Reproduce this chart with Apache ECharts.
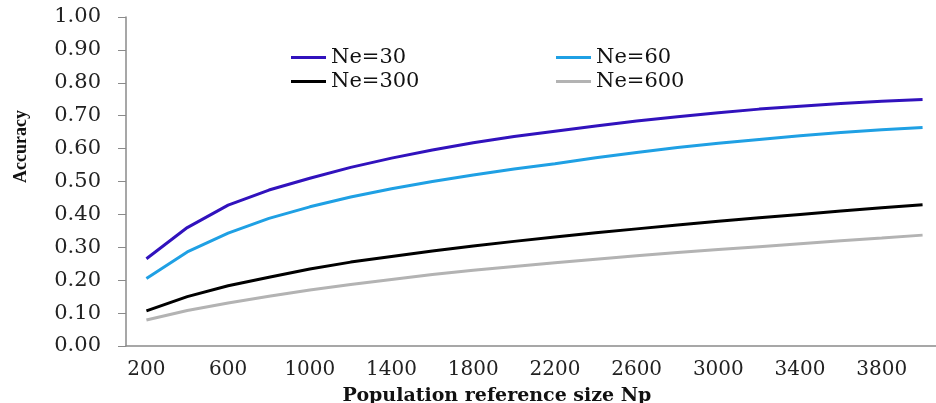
<!DOCTYPE html>
<html>
<head>
<meta charset="utf-8">
<script src="https://cdn.jsdelivr.net/npm/echarts@6/dist/echarts.min.js"></script>
<style>
  html, body { margin: 0; padding: 0; background: #fff; overflow: hidden; }
  #chart { width: 936px; height: 403px; }
</style>
</head>
<body>
<div id="chart"></div>
<script>
// Population reference size Np (categories)
const popSizes = ['200', '400', '600', '800', '1000', '1200', '1400', '1600', '1800', '2000',
  '2200', '2400', '2600', '2800', '3000', '3200', '3400', '3600', '3800', '4000'];

const ne30 = [0.265, 0.360, 0.428, 0.474, 0.510, 0.543, 0.571, 0.596, 0.618, 0.637,
  0.653, 0.669, 0.684, 0.697, 0.709, 0.720, 0.729, 0.737, 0.744, 0.749];
const ne60 = [0.205, 0.286, 0.343, 0.388, 0.423, 0.453, 0.478, 0.500, 0.520, 0.538,
  0.554, 0.572, 0.588, 0.603, 0.616, 0.628, 0.639, 0.649, 0.657, 0.664];
const ne300 = [0.107, 0.150, 0.183, 0.209, 0.234, 0.255, 0.272, 0.289, 0.304, 0.318,
  0.331, 0.344, 0.356, 0.368, 0.379, 0.390, 0.400, 0.410, 0.420, 0.429];
const ne600 = [0.079, 0.108, 0.131, 0.151, 0.170, 0.187, 0.202, 0.217, 0.230, 0.242,
  0.253, 0.264, 0.274, 0.284, 0.293, 0.302, 0.311, 0.320, 0.328, 0.337];

const seriesNames = ['Ne=30', 'Ne=60', 'Ne=300', 'Ne=600'];
const seriesColors = ['#3112bd', '#1fa0e4', '#000000', '#b3b3b3'];

const chart = echarts.init(document.getElementById('chart'));

const serif = 'DejaVu Serif';
const axisGray = '#8a8a8a';

// one small legend per entry so they sit in a 2x2 block like the original
const legendSpots = [
  { left: 291, top: 47 },
  { left: 556, top: 47 },
  { left: 291, top: 71 },
  { left: 556, top: 71 },
];

const option = {
  animation: false,
  backgroundColor: '#fff',
  grid: {
    left: 126,
    top: 17,
    width: 817,
    height: 329,
    outerBoundsMode: 'none',
  },
  legend: seriesNames.map((name, i) => ({
    data: [name],
    left: legendSpots[i].left,
    top: legendSpots[i].top,
    padding: 0,
    icon: 'rect',
    itemWidth: 35,
    itemHeight: 3,
    textStyle: { fontFamily: serif, fontSize: 21, color: '#111' },
  })),
  xAxis: {
    type: 'category',
    data: popSizes,
    boundaryGap: true,
    name: 'Population reference size Np',
    nameLocation: 'middle',
    nameGap: 41,
    nameTextStyle: {
      fontFamily: serif,
      fontWeight: 'bold',
      fontSize: 19,
      color: '#111',
      padding: [0, 75, 0, 0],
    },
    axisLine: { lineStyle: { color: axisGray, width: 1.5 } },
    axisTick: { interval: 0, length: 6, lineStyle: { color: axisGray } },
    axisLabel: {
      interval: 1,
      margin: 14,
      fontFamily: serif,
      fontSize: 20,
      color: '#222',
    },
    splitLine: { show: false },
  },
  yAxis: {
    type: 'value',
    min: 0,
    max: 1,
    interval: 0.1,
    name: 'Accuracy',
    nameLocation: 'middle',
    nameGap: 96,
    nameTextStyle: {
      fontFamily: 'Liberation Serif',
      fontWeight: 'bold',
      fontSize: 18,
      color: '#111',
      padding: [0, 0, 0, 70],
    },
    axisLine: { show: true, lineStyle: { color: axisGray, width: 1.5 } },
    axisTick: { show: true, length: 8, lineStyle: { color: axisGray } },
    axisLabel: {
      margin: 25,
      fontFamily: serif,
      fontSize: 21,
      color: '#222',
      formatter: (v) => v.toFixed(2),
    },
    splitLine: { show: false },
  },
  series: [ne30, ne60, ne300, ne600].map((vals, i) => ({
    name: seriesNames[i],
    type: 'line',
    data: vals,
    symbol: 'none',
    showSymbol: false,
    color: seriesColors[i],
    lineStyle: { width: 3, color: seriesColors[i] },
  })),
};

chart.setOption(option);
</script>
</body>
</html>
